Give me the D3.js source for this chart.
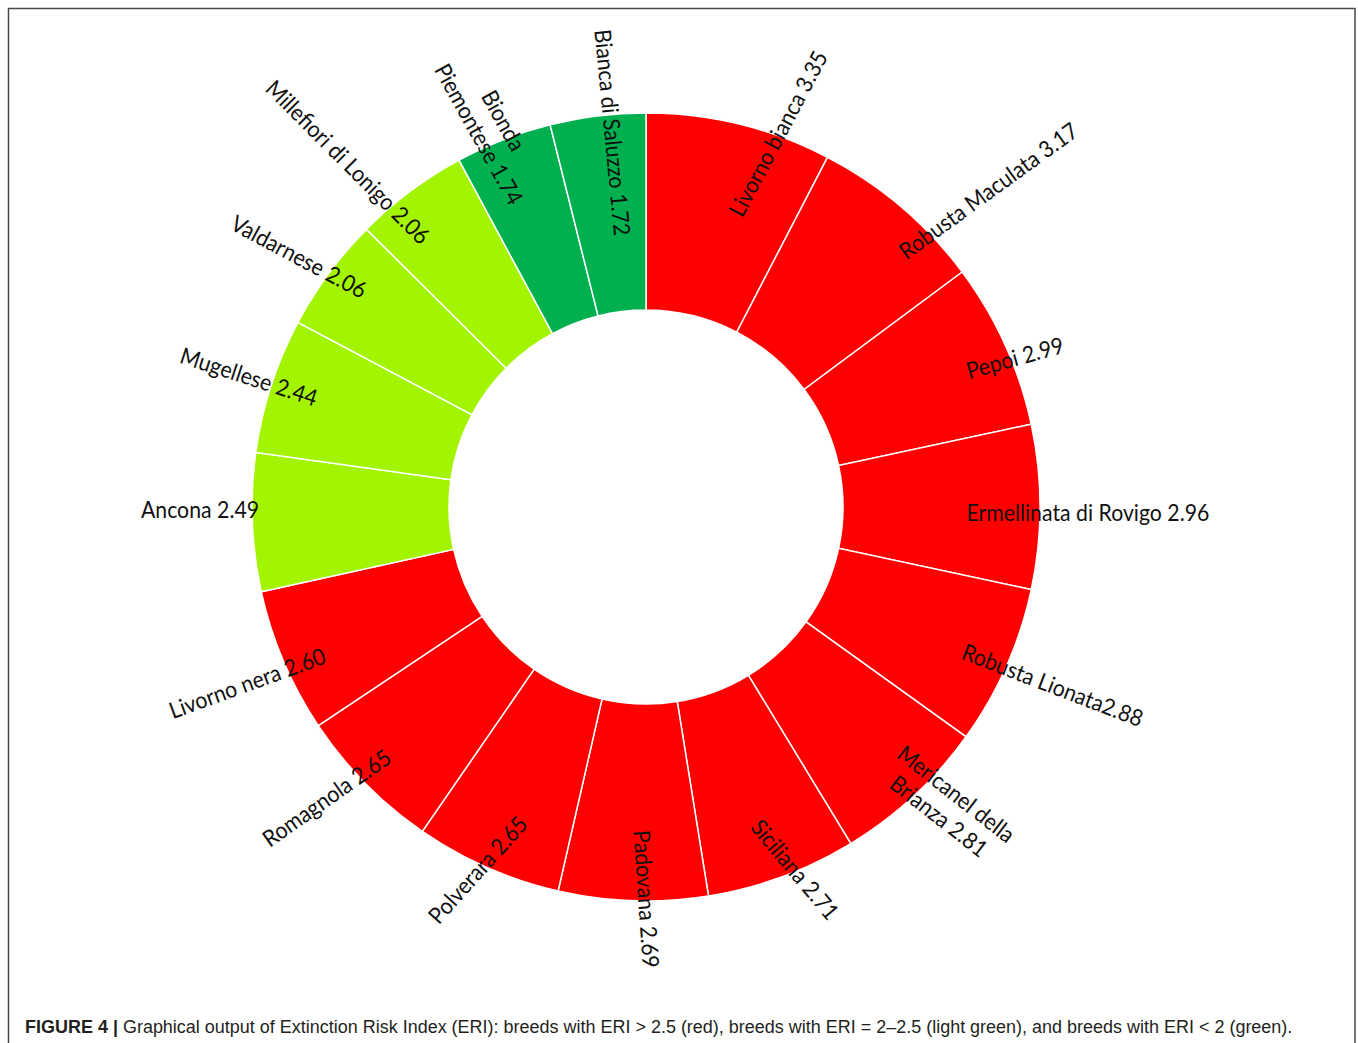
<!DOCTYPE html>
<html>
<head>
<meta charset="utf-8">
<script src="https://cdn.jsdelivr.net/npm/d3@7"></script>
<style>
  body { margin: 0; background: #ffffff; }
  svg { display: block; }
</style>
</head>
<body>
<svg id="chart" width="1358" height="1043"></svg>
<script>
// Extinction Risk Index (ERI) per breed, clockwise from 12 o'clock
const breeds = [
  "Livorno bianca", "Robusta Maculata", "Pepoi", "Ermellinata di Rovigo",
  "Robusta Lionata", "Mericanel della Brianza", "Siciliana", "Padovana",
  "Polverara", "Romagnola", "Livorno nera", "Ancona", "Mugellese",
  "Valdarnese", "Millefiori di Lonigo", "Bionda Piemontese", "Bianca di Saluzzo"
];
const eri = [3.35, 3.17, 2.99, 2.96, 2.88, 2.81, 2.71, 2.69, 2.65, 2.65, 2.60, 2.49, 2.44, 2.06, 2.06, 1.74, 1.72];

// Label text as printed (line breaks included)
const labelText = [
  ["Livorno bianca 3.35"], ["Robusta Maculata 3.17"], ["Pepoi 2.99"],
  ["Ermellinata di Rovigo 2.96"], ["Robusta Lionata2.88"],
  ["Mericanel della", "Brianza 2.81"], ["Siciliana 2.71"], ["Padovana 2.69"],
  ["Polverara 2.65"], ["Romagnola 2.65"], ["Livorno nera 2.60"], ["Ancona 2.49"],
  ["Mugellese 2.44"], ["Valdarnese 2.06"], ["Millefiori di Lonigo 2.06"],
  ["Bionda", "Piemontese 1.74"], ["Bianca di Saluzzo 1.72"]
];

// ERI classes: < 2 green, 2–2.5 light green, > 2.5 red
const classBreaks = [2, 2.5];
const classColors = ["#00b04f", "#a2f400", "#ff0000"];

const caption = "Graphical output of Extinction Risk Index (ERI): breeds with ERI > 2.5 (red), breeds with ERI = 2–2.5 (light green), and breeds with ERI < 2 (green).";

// Hand-placed label layout: [angle shift from slice middle (deg), distance from centre, text rotation (deg)]
const labelLayout = [
  [5.8, 396, -62], [6.9, 466, -36], [2.4, 398, -15.6], [0.8, 442, 0],
  [-0.2, 444, 21], [-2.5, 424, 38], [-2.1, 392, 50], [-1.9, 392, 86],
  [1.1, 400, -48], [2.2, 432, -35], [-0.8, 436, -20], [1.9, 446, 0],
  [0.2, 418, 18], [-0.6, 428, 28], [-4.1, 456, 45], [-1.0, 410, 61],
  [1.9, 376, 84.5]
];

const svg = d3.select("#chart");
const W = 1358, H = 1043;
const cx = 646, cy = 507;
const outerR = 394, innerR = 197;

// Figure frame
svg.append("rect")
  .attr("x", 8.5).attr("y", 8.5)
  .attr("width", 1346.5).attr("height", H + 20)
  .attr("fill", "none")
  .attr("stroke", "#4a4a4a")
  .attr("stroke-width", 1.5);

const color = d3.scaleThreshold().domain(classBreaks).range(classColors);

const pie = d3.pie().sort(null).value(d => d)
  .startAngle(0).endAngle(2 * Math.PI);
const arcs = pie(eri);

const arc = d3.arc().innerRadius(innerR).outerRadius(outerR);

const g = svg.append("g").attr("transform", `translate(${cx},${cy})`);

g.selectAll("path.slice")
  .data(arcs)
  .join("path")
  .attr("class", "slice")
  .attr("d", arc)
  .attr("fill", d => color(d.data))
  .attr("stroke", "#ffffff")
  .attr("stroke-width", 1.5);

// Labels
const labelFont = "Lato, 'Open Sans', sans-serif";
const fontSize = 23;

// horizontal compression so the label font runs as narrow as Calibri
const probe = svg.append("text")
  .attr("font-family", labelFont).attr("font-size", fontSize)
  .text("Ermellinata di Rovigo 2.96");
const kx = 243 / probe.node().getComputedTextLength();
probe.remove();

const lineGap = 28;
const labels = g.selectAll("g.lbl")
  .data(arcs)
  .join("g")
  .attr("class", "lbl")
  .attr("transform", (d, i) => {
    const [dA, r, rot] = labelLayout[i];
    const a = (d.startAngle + d.endAngle) / 2 + dA * Math.PI / 180;
    const x = r * Math.sin(a), y = -r * Math.cos(a);
    return `translate(${x},${y}) rotate(${rot}) scale(${kx},1)`;
  });

labels.each(function (d, i) {
  const lines = labelText[i];
  const t = d3.select(this).append("text")
    .attr("text-anchor", "middle")
    .attr("font-family", labelFont)
    .attr("font-size", fontSize)
    .attr("fill", "#111");
  lines.forEach((ln, j) => {
    t.append("tspan")
      .attr("x", 0)
      .attr("y", (j - (lines.length - 1) / 2) * lineGap)
      .attr("dy", "0.35em")
      .text(ln);
  });
});

// Caption
const cap = svg.append("text")
  .attr("font-family", "'Liberation Sans', Arial, sans-serif")
  .attr("font-size", 18.5)
  .attr("fill", "#231f20");
cap.append("tspan").attr("font-weight", "bold").text("FIGURE 4 | ");
cap.append("tspan").text(caption);
const capW = cap.node().getComputedTextLength();
const capK = (1293 - 25) / capW;
cap.attr("transform", `translate(25,1033) scale(${capK},1)`);
</script>
</body>
</html>
